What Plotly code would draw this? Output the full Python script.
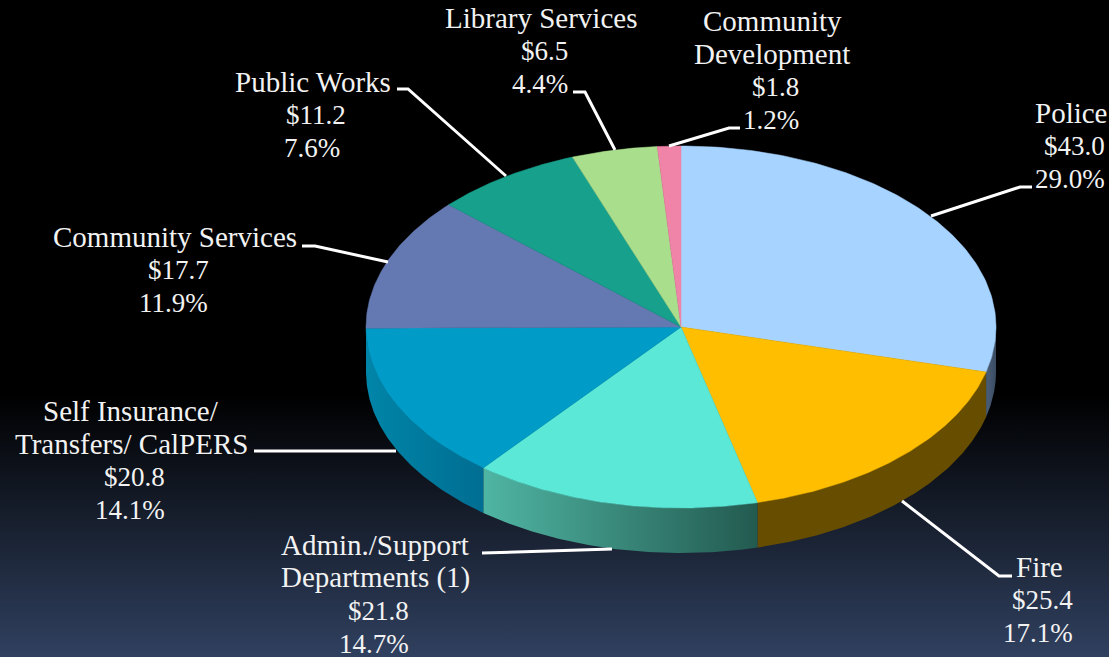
import numpy as np
import plotly.graph_objects as go

# ---------- data ----------
categories = ["Police", "Fire", "Admin./Support<br>Departments (1)", "Self Insurance/<br>Transfers/ CalPERS",
              "Community Services", "Public Works", "Library Services", "Community<br>Development"]
amounts = [43.0, 25.4, 21.8, 20.8, 17.7, 11.2, 6.5, 1.8]
percents = [29.0, 17.1, 14.7, 14.1, 11.9, 7.6, 4.4, 1.2]

# ---------- styling / layout ----------
W, H = 1109, 657
CX, CY, RX, RY, DEPTH = 681, 327, 315, 181, 45
top_colors = ["#A6D3FF", "#FFBE00", "#5CE8D6", "#009CC7", "#6479B2", "#17A08C", "#A9DE8D", "#F083A8"]
wall_colors = [["#4A5F78", "#3B4C62"], ["#664D00", "#664D00"], ["#4FB5A3", "#235A50"],
               ["#0085A8", "#006E92"], None, None, None, None]
label_xy = [(1071, 146), (1039, 600), (375, 594), (131, 460), (175, 270), (313, 115), (541, 51), (772, 70)]
leaders = [
    [(931, 216), (1020, 187), (1032, 187)],
    [(902, 501), (999, 576), (1012, 576)],
    [(612, 549), (495, 553), (482, 553)],
    [(396, 451), (270, 451), (254, 451)],
    [(388, 262), (315, 246), (302, 246)],
    [(506, 176), (408, 89), (397, 89)],
    [(615, 150), (585, 92), (573, 92)],
    [(669, 146), (729, 128), (740, 128)],
]
FONT = "Liberation Serif"
NAME_SIZE, VALUE_SIZE = 29, 27
VALUE_DX, PCT_DX = 3, -1.5
LINE_STEP = 33


def rim(t0, t1, dy=0.0, n=120):
    t = np.radians(np.linspace(t0, t1, n))
    return CX + RX * np.sin(t), CY - RY * np.cos(t) + dy


fig = go.Figure()

# background gradient
fig.add_trace(go.Scatter(
    x=[0, W, W, 0, 0], y=[0, 0, H, H, 0], mode="lines", line_width=0, fill="toself",
    fillgradient=dict(type="vertical", start=0, stop=H,
                      colorscale=[[0, "#000000"], [0.6, "#000000"], [1, "#30405F"]]),
    hoverinfo="skip", showlegend=False))

edges = np.concatenate([[0], np.cumsum(percents)]) * 3.6

# side walls (only the front half, 90..270 degrees, is visible)
for i, wc in enumerate(wall_colors):
    a0, a1 = max(edges[i], 90), min(edges[i + 1], 270)
    if wc is None or a0 >= a1:
        continue
    tx, ty = rim(a0, a1)
    bx, by = rim(a0, a1, DEPTH)
    xs = np.concatenate([tx, bx[::-1], tx[:1]])
    ys = np.concatenate([ty, by[::-1], ty[:1]])
    fig.add_trace(go.Scatter(
        x=xs, y=ys, mode="lines", line_width=0, fill="toself",
        fillgradient=dict(type="horizontal", start=float(xs.min()), stop=float(xs.max()),
                          colorscale=[[0, wc[0]], [1, wc[1]]]),
        hoverinfo="skip", showlegend=False))

# top faces
for i, name in enumerate(categories):
    tx, ty = rim(edges[i], edges[i + 1])
    fig.add_trace(go.Scatter(
        x=np.concatenate([[CX], tx, [CX]]), y=np.concatenate([[CY], ty, [CY]]),
        mode="lines", line=dict(width=0.5, color=top_colors[i]), fill="toself", fillcolor=top_colors[i],
        name=name.replace("<br>", " "), showlegend=False,
        hovertemplate=f"{name}<br>${amounts[i]}<br>{percents[i]}%<extra></extra>"))

# leader lines
for pts in leaders:
    fig.add_trace(go.Scatter(
        x=[p[0] for p in pts], y=[p[1] for p in pts], mode="lines",
        line=dict(color="#FFFFFF", width=3), hoverinfo="skip", showlegend=False))

# labels: one annotation per line so the line pitch follows the reference
annotations = []
for i in range(len(categories)):
    names = categories[i].split("<br>")
    lines = [(n, NAME_SIZE, 0) for n in names] + [
        (f"${amounts[i]:.1f}", VALUE_SIZE, VALUE_DX), (f"{percents[i]:.1f}%", VALUE_SIZE, PCT_DX)]
    for k, (line, size, dx) in enumerate(lines):
        annotations.append(dict(
            x=label_xy[i][0] + dx, y=label_xy[i][1] + (k - (len(lines) - 1) / 2) * LINE_STEP,
            xref="x", yref="y", showarrow=False, xanchor="center", yanchor="middle", text=line,
            font=dict(family=FONT, size=size, color="#F2F2F2")))

fig.update_layout(
    width=W, height=H, margin=dict(l=0, r=0, t=0, b=0), autosize=False,
    paper_bgcolor="#000000", plot_bgcolor="#000000", showlegend=False, annotations=annotations,
    xaxis=dict(range=[0, W], visible=False, fixedrange=True),
    yaxis=dict(range=[H, 0], visible=False, fixedrange=True),
)
fig.write_html("out.html", config={"displayModeBar": False},
               post_script="document.body.style.margin='0';document.documentElement.style.overflow='hidden';")
